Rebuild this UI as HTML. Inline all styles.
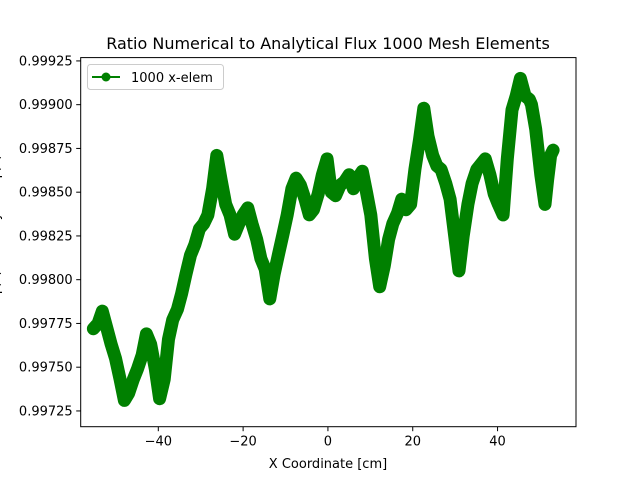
<!DOCTYPE html>
<html><head><meta charset="utf-8"><style>
body{margin:0;background:#fff}
svg{display:block;font-family:"DejaVu Sans","Liberation Sans",sans-serif}
</style></head><body>
<svg id="chart" width="640" height="480" viewBox="0 0 640 480">
<rect width="640" height="480" fill="#fff"/>
<text x="328" y="49" text-anchor="middle" font-size="16">Ratio Numerical to Analytical Flux 1000 Mesh Elements</text>
<g id="plot"></g>
<g id="axes"></g>
<text x="328" y="468" text-anchor="middle" font-size="13">X Coordinate [cm]</text>
<text transform="translate(-1,242) rotate(-90)" text-anchor="middle" font-size="13">Numerical φ(x) to Analytical φ(x) Ratio</text>
<g>
<rect x="87.5" y="64.5" width="136" height="25" rx="3" fill="#fff" stroke="#ccc"/>
<line x1="92" y1="77" x2="120" y2="77" stroke="green" stroke-width="2"/>
<circle cx="106" cy="77" r="4.5" fill="green"/>
<text x="131" y="82" font-size="13">1000 x-elem</text>
</g>
</svg>
<script>
const xVals=[-55.3,-54.2,-53.2,-52.1,-51.1,-50.1,-49.0,-48.0,-47.0,-45.9,-44.9,-43.8,-42.8,-41.8,-40.7,-39.7,-38.6,-37.6,-36.6,-35.5,-34.5,-33.5,-32.4,-31.4,-30.3,-29.3,-28.3,-27.2,-26.2,-25.2,-24.1,-23.1,-22.0,-21.0,-20.0,-18.9,-17.9,-16.8,-15.8,-14.8,-13.7,-12.7,-11.7,-10.6,-9.6,-8.5,-7.5,-6.5,-5.4,-4.4,-3.4,-2.3,-1.3,-0.2,0.8,1.8,2.9,3.9,5.0,6.0,7.0,8.1,9.1,10.1,11.2,12.2,13.3,14.3,15.3,16.4,17.4,18.4,19.5,20.5,21.6,22.6,23.6,24.7,25.7,26.7,27.8,28.8,29.9,30.9,31.9,33.0,34.0,35.1,36.1,37.1,38.2,39.2,40.2,41.3,42.3,43.4,44.4,45.4,46.5,47.5,48.0,49.0,50.2,51.2,51.8,52.5,53.1];
const ratioVals=[0.99772,0.99775,0.99782,0.99772,0.99763,0.99755,0.99743,0.99731,0.99735,0.99743,0.99749,0.99757,0.99769,0.99763,0.99749,0.99732,0.99743,0.99766,0.99777,0.99783,0.99792,0.99803,0.99814,0.99820,0.99829,0.99832,0.99837,0.99852,0.99871,0.99857,0.99843,0.99837,0.99826,0.99832,0.99837,0.99841,0.99832,0.99823,0.99812,0.99806,0.99789,0.99803,0.99814,0.99826,0.99837,0.99852,0.99858,0.99854,0.99846,0.99837,0.99840,0.99849,0.99860,0.99869,0.99850,0.99848,0.99854,0.99856,0.99860,0.99852,0.99858,0.99862,0.99850,0.99837,0.99812,0.99796,0.99808,0.99823,0.99832,0.99838,0.99846,0.99840,0.99843,0.99863,0.99880,0.99898,0.99882,0.99871,0.99865,0.99863,0.99855,0.99846,0.99825,0.99805,0.99825,0.99843,0.99855,0.99863,0.99866,0.99869,0.99860,0.99849,0.99843,0.99837,0.99869,0.99897,0.99905,0.99915,0.99905,0.99903,0.99900,0.99886,0.99860,0.99843,0.99857,0.99871,0.99874];
const xTicks=[-40,-20,0,20,40];
const yTicks=[0.99725,0.99750,0.99775,0.99800,0.99825,0.99850,0.99875,0.99900,0.99925];
const L=80.7,R=576,T=57.6,B=426.7;
const xMin=-58.3,xMax=58.5,yMin=0.99716,yMax=0.999269;
function sx(v){return L+(v-xMin)/(xMax-xMin)*(R-L);}
function sy(v){return B-(v-yMin)/(yMax-yMin)*(B-T);}
const NS="http://www.w3.org/2000/svg";
const plot=document.getElementById('plot'),axes=document.getElementById('axes');
const pts=xVals.map((x,i)=>sx(x).toFixed(1)+','+sy(ratioVals[i]).toFixed(1)).join(' ');
const band=document.createElementNS(NS,'polyline');


band.setAttribute('points',pts);band.setAttribute('fill','none');band.setAttribute('stroke','green');band.setAttribute('stroke-width','13');band.setAttribute('stroke-linejoin','round');band.setAttribute('stroke-linecap','round');
plot.appendChild(band);
xVals.forEach((x,i)=>{const c=document.createElementNS(NS,'circle');


c.setAttribute('cx',sx(x));c.setAttribute('cy',sy(ratioVals[i]));c.setAttribute('r','6');c.setAttribute('fill','green');plot.appendChild(c);});
const frame=document.createElementNS(NS,'rect');


frame.setAttribute('x',L);frame.setAttribute('y',T);frame.setAttribute('width',R-L);frame.setAttribute('height',B-T);frame.setAttribute('fill','none');frame.setAttribute('stroke','#000');frame.setAttribute('stroke-width','1');
axes.appendChild(frame);
xTicks.forEach(t=>{const x=sx(t);
const ln=document.createElementNS(NS,'line');


ln.setAttribute('x1',x);ln.setAttribute('x2',x);ln.setAttribute('y1',B);ln.setAttribute('y2',B+4.5);ln.setAttribute('stroke','#000');axes.appendChild(ln);
const tx=document.createElementNS(NS,'text');


tx.setAttribute('x',x);tx.setAttribute('y',B+19);tx.setAttribute('text-anchor','middle');tx.setAttribute('font-size','13');tx.textContent=t<0?'\u2212'+Math.abs(t):String(t);axes.appendChild(tx);});
yTicks.forEach(t=>{const y=sy(t);
const ln=document.createElementNS(NS,'line');


ln.setAttribute('x1',L-4.5);ln.setAttribute('x2',L);ln.setAttribute('y1',y);ln.setAttribute('y2',y);ln.setAttribute('stroke','#000');axes.appendChild(ln);
const tx=document.createElementNS(NS,'text');


tx.setAttribute('x',L-8);tx.setAttribute('y',y+4.5);tx.setAttribute('text-anchor','end');tx.setAttribute('font-size','13');tx.textContent=t.toFixed(5);axes.appendChild(tx);});
</script>
</body></html>
